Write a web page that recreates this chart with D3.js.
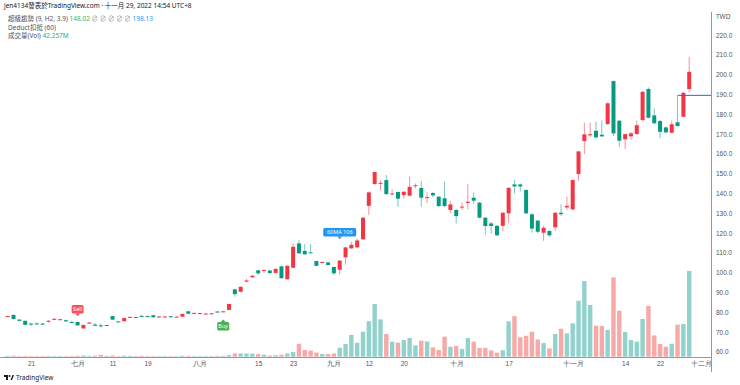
<!DOCTYPE html>
<html>
<head>
<meta charset="utf-8">
<script src="https://cdn.jsdelivr.net/npm/d3@7"></script>
<style>
body { margin: 0; background: #fff; }
svg { display: block; font-family: "Noto Sans", "Noto Sans CJK TC", sans-serif; }
</style>
</head>
<body>
<div id="chart"></div>
<script>
// trading days, 2022
const dates = [
  "06-15","06-16","06-17","06-20","06-21","06-22","06-23","06-24","06-27","06-28","06-29","06-30",
  "07-01","07-04","07-05","07-06","07-07","07-08","07-11","07-12","07-13","07-14","07-15","07-18","07-19","07-20","07-21","07-22","07-25","07-26","07-27","07-28","07-29",
  "08-01","08-02","08-03","08-04","08-05","08-08","08-09","08-10","08-11","08-12","08-15","08-16","08-17","08-18","08-19","08-22","08-23","08-24","08-25","08-26","08-29","08-30","08-31",
  "09-01","09-02","09-05","09-06","09-07","09-08","09-12","09-13","09-14","09-15","09-16","09-19","09-20","09-21","09-22","09-23","09-26","09-27","09-28","09-29","09-30",
  "10-03","10-04","10-05","10-06","10-07","10-11","10-12","10-13","10-14","10-17","10-18","10-19","10-20","10-21","10-24","10-25","10-26","10-27","10-28","10-31",
  "11-01","11-02","11-03","11-04","11-07","11-08","11-09","11-10","11-11","11-14","11-15","11-16","11-17","11-18","11-21","11-22","11-23","11-24","11-25","11-28","11-29"
];
// empty space right of last bar
const futureDates = ["11-30","12-01","12-02","12-05"];

const open = [
  77.8,78.6,76.2,75.6,74.2,74.3,74.2,75.3,76.2,76.2,75.9,75.0,
  75.0,71.8,74.3,73.7,73.3,73.1,78.0,75.3,75.4,77.3,77.5,78.1,78.0,78.4,77.5,77.7,77.9,77.6,77.7,80.4,79.4,
  79.3,79.0,79.1,80.3,80.0,81.1,91.5,90.3,95.4,97.6,101.1,100.9,101.0,99.8,103.1,96.6,102.4,114.7,110.9,110.2,105.8,104.8,105.1,
  102.8,101.4,107.7,112.2,112.7,116.8,133.7,144.7,144.8,146.7,139.5,140.7,139.1,138.8,143.6,142.7,137.9,140.2,138.3,137.5,131.6,
  131.6,132.9,135.2,137.8,135.3,127.7,124.8,123.6,123.6,129.9,144.5,144.5,141.7,129.4,126.2,120.1,121.0,122.8,130.2,132.9,
  131.9,149.8,166.4,169.3,171.6,169.6,175.0,196.7,176.7,167.3,168.8,170.0,177.0,192.7,179.4,176.5,173.3,170.6,175.9,178.7,192.7
];
const high = [
  78.3,78.8,76.4,75.7,74.6,74.6,74.5,76.0,77.0,76.6,76.1,75.6,
  75.3,73.8,75.0,74.6,74.2,73.6,78.2,75.5,77.2,77.7,77.7,78.6,78.2,78.6,77.9,77.9,78.0,77.9,79.2,80.6,79.8,
  79.7,79.5,79.5,80.6,80.6,84.3,91.6,93.0,96.8,98.6,101.5,101.6,101.4,102.2,103.5,103.6,114.7,116.4,114.4,114.3,106.0,105.5,105.4,
  103.0,106.3,112.9,115.5,117.0,127.9,141.0,151.0,146.5,149.2,142.0,141.0,141.0,148.4,145.0,146.4,140.5,140.6,138.6,146.0,136.2,
  132.0,135.5,144.7,140.5,135.6,128.0,125.5,124.0,130.5,143.0,146.7,145.0,142.0,130.0,126.5,123.5,121.3,130.5,134.5,138.3,
  147.0,161.4,175.7,175.7,176.2,177.0,185.8,197.0,177.0,170.2,171.0,176.7,191.6,193.5,182.9,177.0,173.8,176.7,189.3,191.0,209.0
];
const low = [
  77.5,76.3,75.3,73.4,73.0,73.6,73.5,74.8,76.0,76.0,75.0,74.3,
  73.0,71.5,74.0,72.8,72.3,73.0,76.0,75.0,75.3,77.1,77.0,77.8,77.5,77.2,77.3,77.5,77.3,77.5,77.6,79.0,79.2,
  79.0,78.8,78.9,79.7,79.9,81.0,87.8,90.0,95.0,97.2,98.8,99.8,99.5,99.6,97.0,96.4,102.2,109.5,109.0,109.8,103.2,104.6,103.6,
  98.7,99.0,104.0,112.0,112.5,116.5,129.0,144.5,141.5,139.4,139.3,133.2,137.5,138.5,142.5,133.2,135.0,138.0,133.0,133.0,130.0,
  124.8,131.5,132.0,134.5,127.5,119.0,119.5,118.5,121.0,125.0,140.0,141.0,129.5,120.1,119.8,116.0,118.0,121.0,128.5,131.5,
  131.5,146.4,159.8,168.5,167.5,168.5,174.5,169.0,163.5,162.4,167.0,169.5,176.5,177.8,175.0,167.8,170.3,170.3,173.8,178.5,191.0
];
const close = [
  78.0,76.5,75.6,73.6,74.0,73.9,73.8,75.6,76.6,76.4,75.3,74.8,
  73.3,73.5,74.7,73.1,73.2,73.5,76.2,75.1,77.0,77.6,77.2,77.9,77.7,77.4,77.8,77.8,77.6,77.7,79.1,79.2,79.6,
  79.5,79.3,79.4,79.9,80.4,84.1,89.1,92.8,96.0,98.4,99.6,101.3,99.7,101.8,97.1,103.4,113.0,109.7,109.2,110.0,103.4,105.3,103.8,
  99.6,106.0,112.7,114.0,116.2,127.7,140.5,150.8,145.3,139.6,139.9,137.3,140.8,143.3,144.1,137.8,138.1,139.0,133.6,133.6,134.4,
  128.5,133.3,135.8,136.3,127.7,123.5,123.5,118.8,130.2,142.8,143.5,143.5,129.9,122.2,120.6,122.6,118.8,130.2,129.5,133.7,
  146.7,161.2,169.8,169.9,168.3,168.8,185.5,170.3,166.6,169.9,170.3,174.4,191.3,178.2,175.4,171.1,170.8,174.9,174.0,190.8,201.4
];
// volume in millions
const volume = [
  0.4,0.5,0.3,0.4,0.3,0.3,0.3,0.4,0.3,0.3,0.3,0.3,
  0.4,0.6,0.4,0.5,0.9,0.4,0.6,0.3,0.5,0.4,0.3,0.4,0.3,0.3,0.3,0.3,0.3,0.3,0.5,0.4,0.3,
  0.3,0.3,0.3,0.4,0.4,0.8,1.6,1.6,1.6,1.5,1.3,1.0,0.6,0.7,1.0,1.6,2.3,6.4,3.3,3.0,2.0,1.3,1.3,
  1.6,4.4,6.3,10.7,6.9,12.3,17.5,26.0,18.4,11.2,7.4,6.9,8.2,9.2,5.6,7.9,7.5,4.6,3.3,9.9,4.9,
  5.3,3.9,9.2,7.4,4.4,4.4,3.1,2.0,3.2,17.4,20.0,9.6,10.3,12.3,8.5,6.7,4.1,11.2,13.8,11.5,
  16.4,27.6,37.3,25.5,15.3,15.1,13.2,39.1,22.7,12.2,8.2,7.4,18.6,25.0,10.5,6.3,4.9,6.4,15.8,16.1,42.257
];

const tickDates  = ["06-21","07-01","07-11","07-19","08-01","08-15","08-23","09-01","09-12","09-20","10-03","10-17","11-01","11-14","11-22","12-01"];
const tickLabels = ["21","七月","11","19","八月","15","23","九月","12","20","十月","17","十一月","14","22","十二月"];
const priceTicks = [60,70,80,90,100,110,120,130,140,150,160,170,180,190,200,210,220];

const W = 740, H = 385;
const plotRight = 711, plotBottom = 357;
const upColor = '#f23645', downColor = '#089981';

const svg = d3.select('#chart').append('svg')
  .attr('width', W)
  .attr('height', H);

const x = d3.scalePoint().domain(dates.concat(futureDates)).range([7.7, 712.5]);
const y = d3.scaleLinear().domain([60, 220]).range([351.7, 35]);
const yVol = d3.scaleLinear().domain([0, 42.257]).range([356.7, 271]);

const bars = dates.map((d, i) => ({ date: d, o: open[i], h: high[i], l: low[i], c: close[i], v: volume[i] }));

svg.append('clipPath').attr('id', 'clip')
  .append('rect').attr('x', 0).attr('y', 0).attr('width', plotRight).attr('height', plotBottom);

const plot = svg.append('g').attr('clip-path', 'url(#clip)');

// volume bars
plot.selectAll('rect.vol').data(bars).enter()
  .append('rect')
  .attr('class', 'vol')
  .attr('x', d => x(d.date) - 2.2)
  .attr('width', 4.4)
  .attr('y', d => yVol(d.v))
  .attr('height', d => yVol(0) - yVol(d.v))
  .attr('fill', d => d.c >= d.o ? 'rgba(38,166,154,0.5)' : 'rgba(239,83,80,0.5)');

// wicks
plot.selectAll('line.wick').data(bars).enter()
  .append('line')
  .attr('class', 'wick')
  .attr('x1', d => x(d.date)).attr('x2', d => x(d.date))
  .attr('y1', d => y(d.h)).attr('y2', d => y(d.l))
  .attr('stroke', d => d.c >= d.o ? upColor : downColor)
  .attr('stroke-opacity', 0.55)
  .attr('stroke-width', 1);

// bodies
plot.selectAll('rect.body').data(bars).enter()
  .append('rect')
  .attr('class', 'body')
  .attr('x', d => x(d.date) - 2)
  .attr('width', 4)
  .attr('y', d => y(Math.max(d.o, d.c)))
  .attr('height', d => Math.max(1, Math.abs(y(d.o) - y(d.c))))
  .attr('fill', d => d.c >= d.o ? upColor : downColor);

// supertrend / price line
const lineDate = dates[dates.length - 3];
plot.append('line')
  .attr('x1', x(lineDate)).attr('x2', plotRight)
  .attr('y1', y(189.5)).attr('y2', y(189.5))
  .attr('stroke', '#2962ff').attr('stroke-width', 1);

// signal labels
function flag(date, price, text, color, below, w) {
  const cx = x(date);
  const g = svg.append('g');
  const h = 8.5;
  const top = below ? y(price) + 6 : y(price) - 6 - h;
  g.append('rect').attr('x', cx - w / 2).attr('y', top).attr('width', w).attr('height', h)
    .attr('rx', 1.5).attr('fill', color);
  const tip = below ? top - 2.5 : top + h + 2.5;
  const base = below ? top : top + h;
  g.append('path').attr('d', `M${cx - 2.5},${base}L${cx},${tip}L${cx + 2.5},${base}Z`).attr('fill', color);
  g.append('text').attr('x', cx).attr('y', top + h / 2 + 2)
    .attr('text-anchor', 'middle').attr('fill', '#fff')
    .style('font-size', '5.5px').text(text);
}
flag("07-01", 76.3, "Sell", '#f7525f', false, 12);
flag("08-05", 78.0, "Buy", '#4caf50', true, 12);
flag("09-02", 115.2, "60MA 106", '#2196f3', false, 33);

// axes
const yAxis = d3.axisRight(y).tickValues(priceTicks).tickFormat(d3.format('.1f')).tickSize(0).tickPadding(5);
svg.append('g')
  .attr('transform', `translate(${plotRight},0)`)
  .call(yAxis)
  .call(g => g.select('.domain').remove())
  .selectAll('text').attr('fill', '#50535e').style('font-size', '6.5px');

svg.append('text').attr('x', 716).attr('y', 19).attr('fill', '#50535e').style('font-size', '6.5px').text('TWD');

const xAxis = d3.axisBottom(x).tickValues(tickDates)
  .tickFormat(d => tickLabels[tickDates.indexOf(d)]).tickSize(0).tickPadding(4);
svg.append('g')
  .attr('transform', `translate(0,${plotBottom})`)
  .call(xAxis)
  .call(g => g.select('.domain').remove())
  .selectAll('text').attr('fill', '#50535e').style('font-size', '6.5px');

svg.append('line').attr('x1', 0).attr('x2', plotRight).attr('y1', plotBottom + 0.5).attr('y2', plotBottom + 0.5)
  .attr('stroke', '#9598a1');
svg.append('line').attr('x1', plotRight + 0.5).attr('x2', plotRight + 0.5).attr('y1', 12).attr('y2', 372)
  .attr('stroke', '#9598a1');

// header
const head = svg.append('g').style('font-size', '6.5px').attr('fill', '#131722');
head.append('text').attr('x', 4).attr('y', 8).text('jen4134發表於TradingView.com · 十一月 29, 2022 14:54 UTC+8');
const l2 = head.append('text').attr('x', 8).attr('y', 21);
l2.append('tspan').attr('fill', '#50535e').text('超級趨勢 (9, H2, 3.9) ');
l2.append('tspan').attr('fill', '#4caf50').text('148.02 ');
l2.append('tspan').attr('fill', '#9598a1').text(' ∅  ∅  ∅  ∅  ∅ ');
l2.append('tspan').attr('fill', '#2196f3').text(' 198.13');
head.append('text').attr('x', 8).attr('y', 29.5).attr('fill', '#50535e').text('Deduct扣抵 (60)');
const l4 = head.append('text').attr('x', 8).attr('y', 38);
l4.append('tspan').attr('fill', '#50535e').text('成交量(Vol) ');
l4.append('tspan').attr('fill', '#22ab94').text('42.257M');

// footer logo
const logo = svg.append('g').attr('fill', '#131722');
logo.append('rect').attr('x', 4).attr('y', 375).attr('width', 4).attr('height', 2);
logo.append('rect').attr('x', 6).attr('y', 375).attr('width', 2).attr('height', 5);
logo.append('circle').attr('cx', 9.5).attr('cy', 376).attr('r', 1);
logo.append('path').attr('d', 'M10.5,380L12.5,375L14,375L12,380Z');
logo.append('text').attr('x', 16).attr('y', 380).style('font-size', '6.5px').text('TradingView');
</script>
</body>
</html>
